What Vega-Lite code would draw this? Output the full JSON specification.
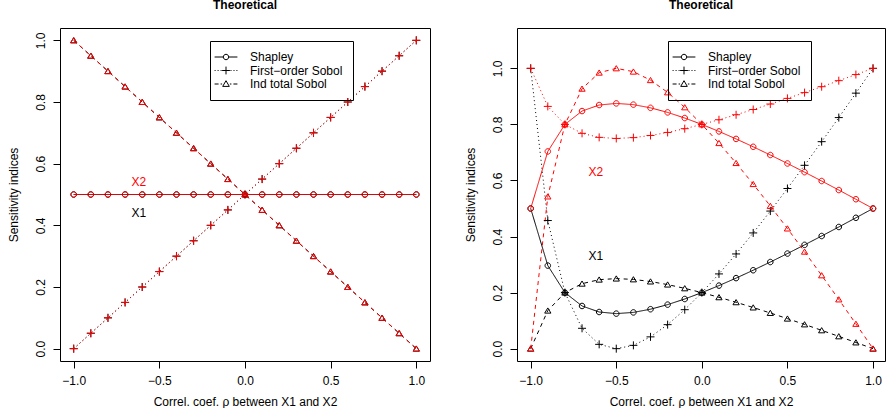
{
"$schema": "https://vega.github.io/schema/vega-lite/v6.json",
"padding": {"left": 7, "top": -2, "right": 0, "bottom": 0},
"background": "white",
"bounds": "flush",
"spacing": 87,
"config": {
  "font": "Liberation Sans",
  "view": {"stroke": "black", "strokeWidth": 1},
  "axis": {"grid": false, "domain": false, "tickColor": "black", "tickSize": 7, "tickWidth": 1, "labelFont": "Liberation Sans", "labelFontSize": 12, "labelColor": "black", "titleFont": "Liberation Sans", "titleFontSize": 12, "titleFontWeight": "normal", "titleColor": "black", "labelFlush": false, "labelOverlap": false},
  "title": {"font": "Liberation Sans", "fontSize": 12, "fontWeight": "bold", "color": "black"},
  "legend": {"orient": "none", "legendY": 13, "title": " ", "titleFontSize": 1, "titlePadding": 10, "strokeColor": "black", "padding": 10, "symbolSize": 36, "symbolOffset": 0, "labelOffset": 18, "rowPadding": 1.5, "labelFont": "Liberation Sans", "labelFontSize": 12, "labelColor": "black", "symbolStrokeColor": "black", "symbolStrokeWidth": 1, "symbolOpacity": 1, "symbolFillColor": "transparent"}
},
"datasets": {
"d": [
{"p":"L","v":"X1","r":-1,"sh":0.5,"fo":0,"it":1},
{"p":"L","v":"X1","r":-0.9,"sh":0.5,"fo":0.05,"it":0.95},
{"p":"L","v":"X1","r":-0.8,"sh":0.5,"fo":0.1,"it":0.9},
{"p":"L","v":"X1","r":-0.7,"sh":0.5,"fo":0.15,"it":0.85},
{"p":"L","v":"X1","r":-0.6,"sh":0.5,"fo":0.2,"it":0.8},
{"p":"L","v":"X1","r":-0.5,"sh":0.5,"fo":0.25,"it":0.75},
{"p":"L","v":"X1","r":-0.4,"sh":0.5,"fo":0.3,"it":0.7},
{"p":"L","v":"X1","r":-0.3,"sh":0.5,"fo":0.35,"it":0.65},
{"p":"L","v":"X1","r":-0.2,"sh":0.5,"fo":0.4,"it":0.6},
{"p":"L","v":"X1","r":-0.1,"sh":0.5,"fo":0.45,"it":0.55},
{"p":"L","v":"X1","r":0,"sh":0.5,"fo":0.5,"it":0.5},
{"p":"L","v":"X1","r":0.1,"sh":0.5,"fo":0.55,"it":0.45},
{"p":"L","v":"X1","r":0.2,"sh":0.5,"fo":0.6,"it":0.4},
{"p":"L","v":"X1","r":0.3,"sh":0.5,"fo":0.65,"it":0.35},
{"p":"L","v":"X1","r":0.4,"sh":0.5,"fo":0.7,"it":0.3},
{"p":"L","v":"X1","r":0.5,"sh":0.5,"fo":0.75,"it":0.25},
{"p":"L","v":"X1","r":0.6,"sh":0.5,"fo":0.8,"it":0.2},
{"p":"L","v":"X1","r":0.7,"sh":0.5,"fo":0.85,"it":0.15},
{"p":"L","v":"X1","r":0.8,"sh":0.5,"fo":0.9,"it":0.1},
{"p":"L","v":"X1","r":0.9,"sh":0.5,"fo":0.95,"it":0.05},
{"p":"L","v":"X1","r":1,"sh":0.5,"fo":1,"it":0},
{"p":"L","v":"X2","r":-1,"sh":0.5,"fo":0,"it":1},
{"p":"L","v":"X2","r":-0.9,"sh":0.5,"fo":0.05,"it":0.95},
{"p":"L","v":"X2","r":-0.8,"sh":0.5,"fo":0.1,"it":0.9},
{"p":"L","v":"X2","r":-0.7,"sh":0.5,"fo":0.15,"it":0.85},
{"p":"L","v":"X2","r":-0.6,"sh":0.5,"fo":0.2,"it":0.8},
{"p":"L","v":"X2","r":-0.5,"sh":0.5,"fo":0.25,"it":0.75},
{"p":"L","v":"X2","r":-0.4,"sh":0.5,"fo":0.3,"it":0.7},
{"p":"L","v":"X2","r":-0.3,"sh":0.5,"fo":0.35,"it":0.65},
{"p":"L","v":"X2","r":-0.2,"sh":0.5,"fo":0.4,"it":0.6},
{"p":"L","v":"X2","r":-0.1,"sh":0.5,"fo":0.45,"it":0.55},
{"p":"L","v":"X2","r":0,"sh":0.5,"fo":0.5,"it":0.5},
{"p":"L","v":"X2","r":0.1,"sh":0.5,"fo":0.55,"it":0.45},
{"p":"L","v":"X2","r":0.2,"sh":0.5,"fo":0.6,"it":0.4},
{"p":"L","v":"X2","r":0.3,"sh":0.5,"fo":0.65,"it":0.35},
{"p":"L","v":"X2","r":0.4,"sh":0.5,"fo":0.7,"it":0.3},
{"p":"L","v":"X2","r":0.5,"sh":0.5,"fo":0.75,"it":0.25},
{"p":"L","v":"X2","r":0.6,"sh":0.5,"fo":0.8,"it":0.2},
{"p":"L","v":"X2","r":0.7,"sh":0.5,"fo":0.85,"it":0.15},
{"p":"L","v":"X2","r":0.8,"sh":0.5,"fo":0.9,"it":0.1},
{"p":"L","v":"X2","r":0.9,"sh":0.5,"fo":0.95,"it":0.05},
{"p":"L","v":"X2","r":1,"sh":0.5,"fo":1,"it":0},
{"p":"R","v":"X1","r":-1,"sh":0.5,"fo":1,"it":0},
{"p":"R","v":"X1","r":-0.9,"sh":0.2964,"fo":0.4571,"it":0.1357},
{"p":"R","v":"X1","r":-0.8,"sh":0.2,"fo":0.2,"it":0.2},
{"p":"R","v":"X1","r":-0.7,"sh":0.1523,"fo":0.0727,"it":0.2318},
{"p":"R","v":"X1","r":-0.6,"sh":0.1308,"fo":0.0154,"it":0.2462},
{"p":"R","v":"X1","r":-0.5,"sh":0.125,"fo":0,"it":0.25},
{"p":"R","v":"X1","r":-0.4,"sh":0.1294,"fo":0.0118,"it":0.2471},
{"p":"R","v":"X1","r":-0.3,"sh":0.1408,"fo":0.0421,"it":0.2395},
{"p":"R","v":"X1","r":-0.2,"sh":0.1571,"fo":0.0857,"it":0.2286},
{"p":"R","v":"X1","r":-0.1,"sh":0.1772,"fo":0.1391,"it":0.2152},
{"p":"R","v":"X1","r":0,"sh":0.2,"fo":0.2,"it":0.2},
{"p":"R","v":"X1","r":0.1,"sh":0.225,"fo":0.2667,"it":0.1833},
{"p":"R","v":"X1","r":0.2,"sh":0.2517,"fo":0.3379,"it":0.1655},
{"p":"R","v":"X1","r":0.3,"sh":0.2798,"fo":0.4129,"it":0.1468},
{"p":"R","v":"X1","r":0.4,"sh":0.3091,"fo":0.4909,"it":0.1273},
{"p":"R","v":"X1","r":0.5,"sh":0.3393,"fo":0.5714,"it":0.1071},
{"p":"R","v":"X1","r":0.6,"sh":0.3703,"fo":0.6541,"it":0.0865},
{"p":"R","v":"X1","r":0.7,"sh":0.4019,"fo":0.7385,"it":0.0654},
{"p":"R","v":"X1","r":0.8,"sh":0.4341,"fo":0.8244,"it":0.0439},
{"p":"R","v":"X1","r":0.9,"sh":0.4669,"fo":0.9116,"it":0.0221},
{"p":"R","v":"X1","r":1,"sh":0.5,"fo":1,"it":0},
{"p":"R","v":"X2","r":-1,"sh":0.5,"fo":1,"it":0},
{"p":"R","v":"X2","r":-0.9,"sh":0.7036,"fo":0.8643,"it":0.5429},
{"p":"R","v":"X2","r":-0.8,"sh":0.8,"fo":0.8,"it":0.8},
{"p":"R","v":"X2","r":-0.7,"sh":0.8477,"fo":0.7682,"it":0.9273},
{"p":"R","v":"X2","r":-0.6,"sh":0.8692,"fo":0.7538,"it":0.9846},
{"p":"R","v":"X2","r":-0.5,"sh":0.875,"fo":0.75,"it":1},
{"p":"R","v":"X2","r":-0.4,"sh":0.8706,"fo":0.7529,"it":0.9882},
{"p":"R","v":"X2","r":-0.3,"sh":0.8592,"fo":0.7605,"it":0.9579},
{"p":"R","v":"X2","r":-0.2,"sh":0.8429,"fo":0.7714,"it":0.9143},
{"p":"R","v":"X2","r":-0.1,"sh":0.8228,"fo":0.7848,"it":0.8609},
{"p":"R","v":"X2","r":0,"sh":0.8,"fo":0.8,"it":0.8},
{"p":"R","v":"X2","r":0.1,"sh":0.775,"fo":0.8167,"it":0.7333},
{"p":"R","v":"X2","r":0.2,"sh":0.7483,"fo":0.8345,"it":0.6621},
{"p":"R","v":"X2","r":0.3,"sh":0.7202,"fo":0.8532,"it":0.5871},
{"p":"R","v":"X2","r":0.4,"sh":0.6909,"fo":0.8727,"it":0.5091},
{"p":"R","v":"X2","r":0.5,"sh":0.6607,"fo":0.8929,"it":0.4286},
{"p":"R","v":"X2","r":0.6,"sh":0.6297,"fo":0.9135,"it":0.3459},
{"p":"R","v":"X2","r":0.7,"sh":0.5981,"fo":0.9346,"it":0.2615},
{"p":"R","v":"X2","r":0.8,"sh":0.5659,"fo":0.9561,"it":0.1756},
{"p":"R","v":"X2","r":0.9,"sh":0.5331,"fo":0.9779,"it":0.0884},
{"p":"R","v":"X2","r":1,"sh":0.5,"fo":1,"it":0}
],
"lab": [
{"p":"L","t":"X2","v":"X2","r":-0.62,"y":0.54},
{"p":"L","t":"X1","v":"X1","r":-0.62,"y":0.44},
{"p":"R","t":"X2","v":"X2","r":-0.62,"y":0.631},
{"p":"R","t":"X1","v":"X1","r":-0.62,"y":0.332}
]
},
"resolve": {"scale": {"x": "independent", "y": "independent", "color": "independent", "shape": "independent", "strokeDash": "independent"}, "legend": {"shape": "independent"}},
"hconcat": [
{
  "width": 370, "height": 333,
  "title": {"text": "Theoretical", "baseline": "alphabetic", "offset": 7, "anchor": "middle"},
  "layer": [
    {
      "data": {"name": "d"},
      "transform": [{"filter": "datum.p == 'L'"}, {"fold": ["sh", "fo", "it"], "as": ["s", "y"]}],
      "mark": {"type": "line", "strokeWidth": 1},
      "encoding": {
        "x": {"field": "r", "type": "quantitative", "scale": {"domain": [-1.08, 1.08], "nice": false, "zero": false},
              "axis": {"values": [-1, -0.5, 0, 0.5, 1], "format": ".1f", "labelBaseline": "alphabetic", "labelPadding": 16, "minExtent": 30, "maxExtent": 30, "titlePadding": 14.5, "titleBaseline": "alphabetic"},
              "title": "Correl. coef. ρ between X1 and X2"},
        "y": {"field": "y", "type": "quantitative", "scale": {"domain": [-0.04, 1.04], "nice": false, "zero": false},
              "axis": {"values": [0, 0.2, 0.4, 0.6, 0.8, 1], "format": ".1f", "labelAngle": 270, "labelAlign": "center", "labelBaseline": "alphabetic", "labelPadding": 9, "minExtent": 30, "maxExtent": 30, "titlePadding": 12.5, "titleBaseline": "alphabetic"},
              "title": "Sensitivity indices"},
        "color": {"field": "v", "type": "nominal", "scale": {"domain": ["X1", "X2"], "range": ["#000000", "#ff0000"]}, "legend": null},
        "strokeDash": {"field": "s", "type": "nominal", "scale": {"domain": ["it", "fo", "sh"], "range": [[4, 4], [1, 3], [1, 0]]}, "legend": null}
      }
    },
    {
      "data": {"name": "d"},
      "transform": [{"filter": "datum.p == 'L'"}, {"fold": ["sh"], "as": ["s", "y"]}],
      "mark": {"type": "point", "filled": false, "strokeWidth": 1, "opacity": 1, "size": 64, "shape": "M0.69,0A0.69,0.69,0,1,1,-0.69,0A0.69,0.69,0,1,1,0.69,0Z"},
      "encoding": {"x": {"field": "r", "type": "quantitative"}, "y": {"field": "y", "type": "quantitative"}, "color": {"field": "v", "type": "nominal", "legend": null}}
    },
    {
      "data": {"name": "d"},
      "transform": [{"filter": "datum.p == 'L'"}, {"fold": ["fo"], "as": ["s", "y"]}],
      "mark": {"type": "point", "filled": false, "strokeWidth": 1, "opacity": 1, "size": 64, "shape": "M-1,0L1,0M0,-1L0,1"},
      "encoding": {"x": {"field": "r", "type": "quantitative"}, "y": {"field": "y", "type": "quantitative"}, "color": {"field": "v", "type": "nominal", "legend": null}}
    },
    {
      "data": {"name": "d"},
      "transform": [{"filter": "datum.p == 'L'"}, {"fold": ["it"], "as": ["s", "y"]}],
      "mark": {"type": "point", "filled": false, "strokeWidth": 1, "opacity": 1, "size": 64, "shape": "M0,-0.68L0.78,0.62L-0.78,0.62Z"},
      "encoding": {"x": {"field": "r", "type": "quantitative"}, "y": {"field": "y", "type": "quantitative"}, "color": {"field": "v", "type": "nominal", "legend": null}}
    },
    {
      "data": {"name": "d"},
      "transform": [{"filter": "datum.p == 'L'"}, {"fold": ["sh", "fo", "it"], "as": ["s", "y"]}, {"filter": "false"}],
      "mark": {"type": "point", "filled": false, "strokeWidth": 1},
      "encoding": {
        "x": {"field": "r", "type": "quantitative"},
        "y": {"field": "y", "type": "quantitative"},
        "shape": {"field": "s", "type": "nominal",
          "scale": {"domain": ["sh", "fo", "it"], "range": [
            "M-3.8,0L-0.9,0M0.9,0L3.8,0M0.9,0A0.9,0.9,0,1,1,-0.9,0A0.9,0.9,0,1,1,0.9,0",
            "M-3.8,0h0.33M-2.8,0h0.33M-1.8,0h0.33M1.5,0h0.33M2.5,0h0.33M3.47,0h0.33M-1.3,0L1.3,0M0,-1.3L0,1.3",
            "M-3.8,0h1.33M-1.8,0h0.5M1.3,0h0.5M2.47,0h1.33M0,-1.1L1.1,0.8L-1.1,0.8Z"]},
          "legend": {"legendX": 150,
            "labelExpr": "datum.value == 'sh' ? 'Shapley' : datum.value == 'fo' ? 'First−order Sobol' : 'Ind total Sobol'"}}
      }
    },
    {
      "data": {"name": "lab"},
      "transform": [{"filter": "datum.p == 'L'"}],
      "mark": {"type": "text", "fontSize": 12, "font": "Liberation Sans", "align": "center", "baseline": "middle"},
      "encoding": {
        "x": {"field": "r", "type": "quantitative"},
        "y": {"field": "y", "type": "quantitative"},
        "text": {"field": "t"},
        "color": {"field": "v", "type": "nominal", "legend": null}
      }
    }
  ]
},
{
  "width": 368, "height": 333,
  "title": {"text": "Theoretical", "baseline": "alphabetic", "offset": 7, "anchor": "middle"},
  "layer": [
    {
      "data": {"name": "d"},
      "transform": [{"filter": "datum.p == 'R'"}, {"fold": ["sh", "fo", "it"], "as": ["s", "y"]}],
      "mark": {"type": "line", "strokeWidth": 1},
      "encoding": {
        "x": {"field": "r", "type": "quantitative", "scale": {"domain": [-1.08, 1.07], "nice": false, "zero": false},
              "axis": {"values": [-1, -0.5, 0, 0.5, 1], "format": ".1f", "labelBaseline": "alphabetic", "labelPadding": 16, "minExtent": 30, "maxExtent": 30, "titlePadding": 14.5, "titleBaseline": "alphabetic"},
              "title": "Correl. coef. ρ between X1 and X2"},
        "y": {"field": "y", "type": "quantitative", "scale": {"domain": [-0.044, 1.144], "nice": false, "zero": false},
              "axis": {"values": [0, 0.2, 0.4, 0.6, 0.8, 1], "format": ".1f", "labelAngle": 270, "labelAlign": "center", "labelBaseline": "alphabetic", "labelPadding": 9, "minExtent": 30, "maxExtent": 30, "titlePadding": 12.5, "titleBaseline": "alphabetic"},
              "title": "Sensitivity indices"},
        "color": {"field": "v", "type": "nominal", "scale": {"domain": ["X1", "X2"], "range": ["#000000", "#ff0000"]}, "legend": null},
        "strokeDash": {"field": "s", "type": "nominal", "scale": {"domain": ["it", "fo", "sh"], "range": [[4, 4], [1, 3], [1, 0]]}, "legend": null}
      }
    },
    {
      "data": {"name": "d"},
      "transform": [{"filter": "datum.p == 'R'"}, {"fold": ["sh"], "as": ["s", "y"]}],
      "mark": {"type": "point", "filled": false, "strokeWidth": 1, "opacity": 1, "size": 64, "shape": "M0.69,0A0.69,0.69,0,1,1,-0.69,0A0.69,0.69,0,1,1,0.69,0Z"},
      "encoding": {"x": {"field": "r", "type": "quantitative"}, "y": {"field": "y", "type": "quantitative"}, "color": {"field": "v", "type": "nominal", "legend": null}}
    },
    {
      "data": {"name": "d"},
      "transform": [{"filter": "datum.p == 'R'"}, {"fold": ["fo"], "as": ["s", "y"]}],
      "mark": {"type": "point", "filled": false, "strokeWidth": 1, "opacity": 1, "size": 64, "shape": "M-1,0L1,0M0,-1L0,1"},
      "encoding": {"x": {"field": "r", "type": "quantitative"}, "y": {"field": "y", "type": "quantitative"}, "color": {"field": "v", "type": "nominal", "legend": null}}
    },
    {
      "data": {"name": "d"},
      "transform": [{"filter": "datum.p == 'R'"}, {"fold": ["it"], "as": ["s", "y"]}],
      "mark": {"type": "point", "filled": false, "strokeWidth": 1, "opacity": 1, "size": 64, "shape": "M0,-0.68L0.78,0.62L-0.78,0.62Z"},
      "encoding": {"x": {"field": "r", "type": "quantitative"}, "y": {"field": "y", "type": "quantitative"}, "color": {"field": "v", "type": "nominal", "legend": null}}
    },
    {
      "data": {"name": "d"},
      "transform": [{"filter": "datum.p == 'R'"}, {"fold": ["sh", "fo", "it"], "as": ["s", "y"]}, {"filter": "false"}],
      "mark": {"type": "point", "filled": false, "strokeWidth": 1},
      "encoding": {
        "x": {"field": "r", "type": "quantitative"},
        "y": {"field": "y", "type": "quantitative"},
        "shape": {"field": "s", "type": "nominal",
          "scale": {"domain": ["sh", "fo", "it"], "range": [
            "M-3.8,0L-0.9,0M0.9,0L3.8,0M0.9,0A0.9,0.9,0,1,1,-0.9,0A0.9,0.9,0,1,1,0.9,0",
            "M-3.8,0h0.33M-2.8,0h0.33M-1.8,0h0.33M1.5,0h0.33M2.5,0h0.33M3.47,0h0.33M-1.3,0L1.3,0M0,-1.3L0,1.3",
            "M-3.8,0h1.33M-1.8,0h0.5M1.3,0h0.5M2.47,0h1.33M0,-1.1L1.1,0.8L-1.1,0.8Z"]},
          "legend": {"legendX": 151,
            "labelExpr": "datum.value == 'sh' ? 'Shapley' : datum.value == 'fo' ? 'First−order Sobol' : 'Ind total Sobol'"}}
      }
    },
    {
      "data": {"name": "lab"},
      "transform": [{"filter": "datum.p == 'R'"}],
      "mark": {"type": "text", "fontSize": 12, "font": "Liberation Sans", "align": "center", "baseline": "middle"},
      "encoding": {
        "x": {"field": "r", "type": "quantitative"},
        "y": {"field": "y", "type": "quantitative"},
        "text": {"field": "t"},
        "color": {"field": "v", "type": "nominal", "legend": null}
      }
    }
  ]
}
]
}
